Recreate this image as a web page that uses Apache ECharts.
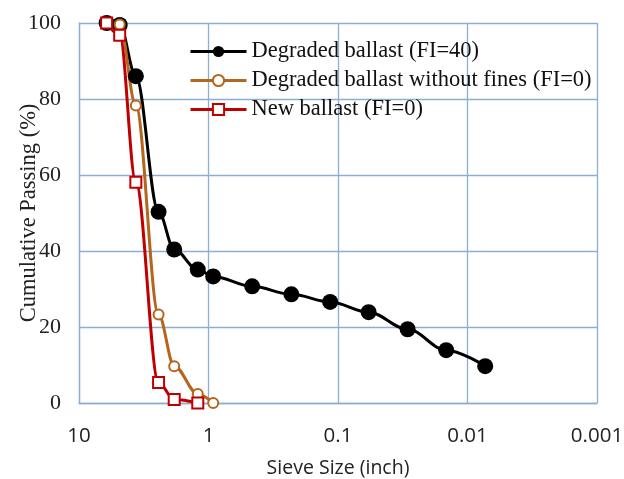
<!DOCTYPE html>
<html>
<head>
<meta charset="utf-8">
<script src="https://cdn.jsdelivr.net/npm/echarts@6/dist/echarts.min.js"></script>
<style>
  html, body { margin: 0; padding: 0; background: #fff; }
  #chart { width: 624px; height: 479px; }
</style>
</head>
<body>
<div id="chart"></div>
<script>
'use strict';

// sieve sizes (inch)
const sizesDegraded = [6.12, 4.85, 3.64, 2.43, 1.84, 1.21, 0.92, 0.46, 0.229, 0.115, 0.058, 0.029, 0.0146, 0.0073];
const passDegraded = [100, 99.5, 86, 50.3, 40.4, 35.1, 33.3, 30.7, 28.6, 26.6, 23.9, 19.4, 13.9, 9.7];

const sizesNoFines = [6.12, 4.85, 3.64, 2.43, 1.84, 1.21, 0.92];
const passNoFines = [100, 99.6, 78.3, 23.3, 9.7, 2.4, 0];

const sizesNew = [6.12, 4.85, 3.64, 2.43, 1.84, 1.21];
const passNew = [100, 96.8, 58.1, 5.4, 0.9, 0];

const seriesNames = [
    'Degraded ballast (FI=40)',
    'Degraded ballast without fines (FI=0)',
    'New ballast (FI=0)'
];

const gridColor = '#8aaed8';
const serif = '"Liberation Serif", "DejaVu Serif", serif';
const sans = '"Open Sans", "Liberation Sans", sans-serif';

const toPairs = (xs, ys) => xs.map((x, i) => [x, ys[i]]);

const chart = echarts.init(document.getElementById('chart'));

const option = {
    animation: false,
    backgroundColor: '#fff',
    grid: {
        left: 79,
        right: 27,
        top: 23,
        bottom: 76,
        outerBoundsMode: 'none'
    },
    legend: {
        orient: 'vertical',
        left: 184,
        top: 35,
        itemWidth: 56,
        itemHeight: 14,
        itemGap: 6,
        lineStyle: { width: 3 },
        textStyle: {
            fontFamily: serif,
            fontSize: 22.5,
            color: '#111'
        },
        data: seriesNames
    },
    xAxis: {
        type: 'log',
        logBase: 10,
        min: 0.001,
        max: 10,
        inverse: true,
        name: 'Sieve Size (inch)',
        nameLocation: 'middle',
        nameGap: 55,
        nameMoveOverlap: false,
        nameTextStyle: {
            fontFamily: sans,
            fontSize: 19.5,
            color: '#222'
        },
        axisLine: { lineStyle: { color: gridColor, width: 1.3 } },
        axisTick: { show: false },
        axisLabel: {
            margin: 23,
            fontFamily: sans,
            fontSize: 20.5,
            color: '#222',
            formatter: v => String(v)
        },
        splitLine: { show: true, lineStyle: { color: gridColor, width: 1.3 } }
    },
    yAxis: {
        type: 'value',
        min: 0,
        max: 100,
        interval: 20,
        name: 'Cumulative Passing (%)',
        nameLocation: 'middle',
        nameGap: 38,
        nameMoveOverlap: false,
        nameTextStyle: {
            fontFamily: serif,
            fontSize: 22.5,
            color: '#222'
        },
        axisLine: { show: true, lineStyle: { color: gridColor, width: 1.3 } },
        axisTick: { show: false },
        axisLabel: {
            margin: 18,
            fontFamily: serif,
            fontSize: 22,
            color: '#222'
        },
        splitLine: { show: true, lineStyle: { color: gridColor, width: 1.3 } }
    },
    series: [{
        name: seriesNames[0],
        type: 'line',
        smooth: 0.35,
        smoothMonotone: 'x',
        symbol: 'circle',
        symbolSize: 16,
        color: '#000',
        lineStyle: { width: 3, color: '#000' },
        itemStyle: { color: '#000' },
        data: toPairs(sizesDegraded, passDegraded)
    }, {
        name: seriesNames[1],
        type: 'line',
        smooth: 0.35,
        smoothMonotone: 'x',
        symbol: 'emptyCircle',
        symbolSize: 10,
        color: '#b5651d',
        lineStyle: { width: 3, color: '#b5651d' },
        itemStyle: { color: '#b5651d', borderWidth: 2 },
        data: toPairs(sizesNoFines, passNoFines)
    }, {
        name: seriesNames[2],
        type: 'line',
        smooth: 0.35,
        smoothMonotone: 'x',
        symbol: 'emptyRect',
        symbolSize: 11,
        color: '#c00000',
        lineStyle: { width: 3, color: '#c00000' },
        itemStyle: { color: '#c00000', borderWidth: 2 },
        data: toPairs(sizesNew, passNew)
    }]
};

chart.setOption(option);
</script>
</body>
</html>
